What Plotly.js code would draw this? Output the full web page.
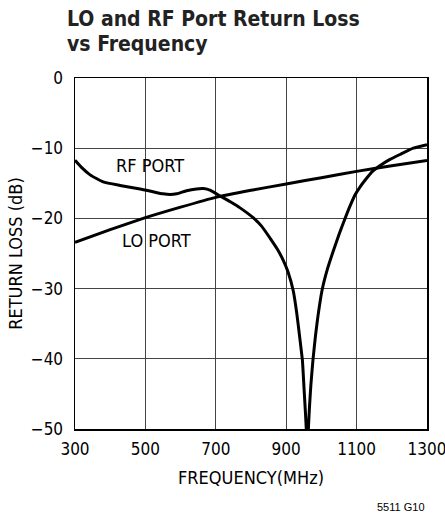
<!DOCTYPE html>
<html>
<head>
<meta charset="utf-8">
<script src="https://cdn.plot.ly/plotly-3.0.1.min.js"></script>
<style>html,body{margin:0;padding:0;background:#fff;}#chart{width:445px;height:513px;}</style>
</head>
<body>
<div id="chart"></div>
<script>
// RF port return loss (dB) vs frequency (MHz)
const rfFreq = [300,320,343,380,428,485,522,550,570,589,617,645,665,685,712,740,769,806,830,854,875,892,905,920,930,939,946,951,955,958,960,962,966,970,976,983,990,1002,1016,1034,1050,1065,1080,1095,1110,1125,1145,1166,1195,1223,1261,1300];
const rfLoss = [-11.7,-12.8,-13.8,-14.8,-15.3,-15.8,-16.2,-16.5,-16.6,-16.5,-16.05,-15.8,-15.75,-16.0,-16.8,-17.6,-18.5,-19.9,-21.1,-22.8,-24.4,-26.0,-27.6,-30.3,-33.5,-37.2,-40.2,-44.5,-48,-51,-54,-51,-47,-43.8,-40.2,-36.8,-34.0,-30.2,-27.4,-24.6,-22.3,-20.3,-18.4,-16.7,-15.5,-14.5,-13.3,-12.5,-11.6,-10.9,-10.0,-9.5];
// LO port return loss (dB) vs frequency (MHz)
const loFreq = [300,400,500,600,700,800,900,1000,1100,1200,1300];
const loLoss = [-23.4,-21.6,-19.9,-18.4,-17.0,-16.0,-15.1,-14.2,-13.3,-12.5,-11.75];

const xTicks = [300,500,700,900,1100,1300];
const yTicks = [0,-10,-20,-30,-40,-50];
const titleLines = ["LO and RF Port Return Loss","vs Frequency"];
const seriesLabels = ["RF PORT","LO PORT"];
const labelPos = [[513,-12.4],[532,-23.2]];
const xTitle = "FREQUENCY(MHz)";
const yTitle = "RETURN LOSS (dB)";
const footnote = "5511 G10";

const NARROW = "'Liberation Sans Narrow', 'DejaVu Sans Condensed', sans-serif";

const traces = [
  {x: rfFreq, y: rfLoss, mode: 'lines', line: {color: '#000', width: 3, shape: 'spline', smoothing: 0.5}, hoverinfo: 'skip'},
  {x: loFreq, y: loLoss, mode: 'lines', line: {color: '#000', width: 3, shape: 'spline', smoothing: 0.5}, hoverinfo: 'skip'}
];

const annotations = [
  {xref: 'paper', yref: 'paper', x: -0.027, y: 1.168, xanchor: 'left', yanchor: 'middle', text: '<b>' + titleLines[0] + '</b>', showarrow: false, font: {family: NARROW, size: 21, color: '#222'}},
  {xref: 'paper', yref: 'paper', x: -0.027, y: 1.096, xanchor: 'left', yanchor: 'middle', text: '<b>' + titleLines[1] + '</b>', showarrow: false, font: {family: NARROW, size: 21, color: '#222'}},
  {xref: 'x', yref: 'y', x: labelPos[0][0], y: labelPos[0][1], text: seriesLabels[0], showarrow: false, font: {family: NARROW, size: 18, color: '#000'}},
  {xref: 'x', yref: 'y', x: labelPos[1][0], y: labelPos[1][1], text: seriesLabels[1], showarrow: false, font: {family: NARROW, size: 18, color: '#000'}},
  {xref: 'paper', yref: 'paper', x: 1.0, y: -0.222, xanchor: 'right', yanchor: 'middle', text: footnote, showarrow: false, font: {family: "'Liberation Sans', Arial, sans-serif", size: 11, color: '#000'}}
];

const layout = {
  width: 445, height: 513,
  margin: {l: 75, r: 18, t: 78, b: 84, pad: 0},
  paper_bgcolor: '#fff', plot_bgcolor: '#fff',
  showlegend: false,
  font: {family: NARROW, size: 18, color: '#000'},
  xaxis: {
    range: [300, 1300], tickvals: xTicks, ticktext: xTicks.map(String),
    showgrid: true, gridcolor: '#444', gridwidth: 1,
    showline: true, linecolor: '#000', linewidth: 1.5, mirror: true,
    ticks: '', zeroline: false, ticklabelstandoff: 4, ticklabeloverflow: 'allow',
    tickfont: {family: NARROW, size: 17, color: '#000'},
    title: {text: xTitle, font: {family: NARROW, size: 18, color: '#000'}, standoff: 13}
  },
  yaxis: {
    range: [-50, 0], tickvals: yTicks, ticktext: yTicks.map(v => v === 0 ? '0' : '\u2212' + Math.abs(v)),
    showgrid: true, gridcolor: '#444', gridwidth: 1,
    showline: true, linecolor: '#000', linewidth: 1.5, mirror: true,
    ticks: '', zeroline: false, ticklabelstandoff: 7,
    tickfont: {family: NARROW, size: 17, color: '#000'},
    title: {text: yTitle, font: {family: NARROW, size: 18, color: '#000'}, standoff: 3}
  },
  annotations: annotations
};

Plotly.newPlot('chart', traces, layout, {displayModeBar: false, staticPlot: true});
</script>
</body>
</html>
